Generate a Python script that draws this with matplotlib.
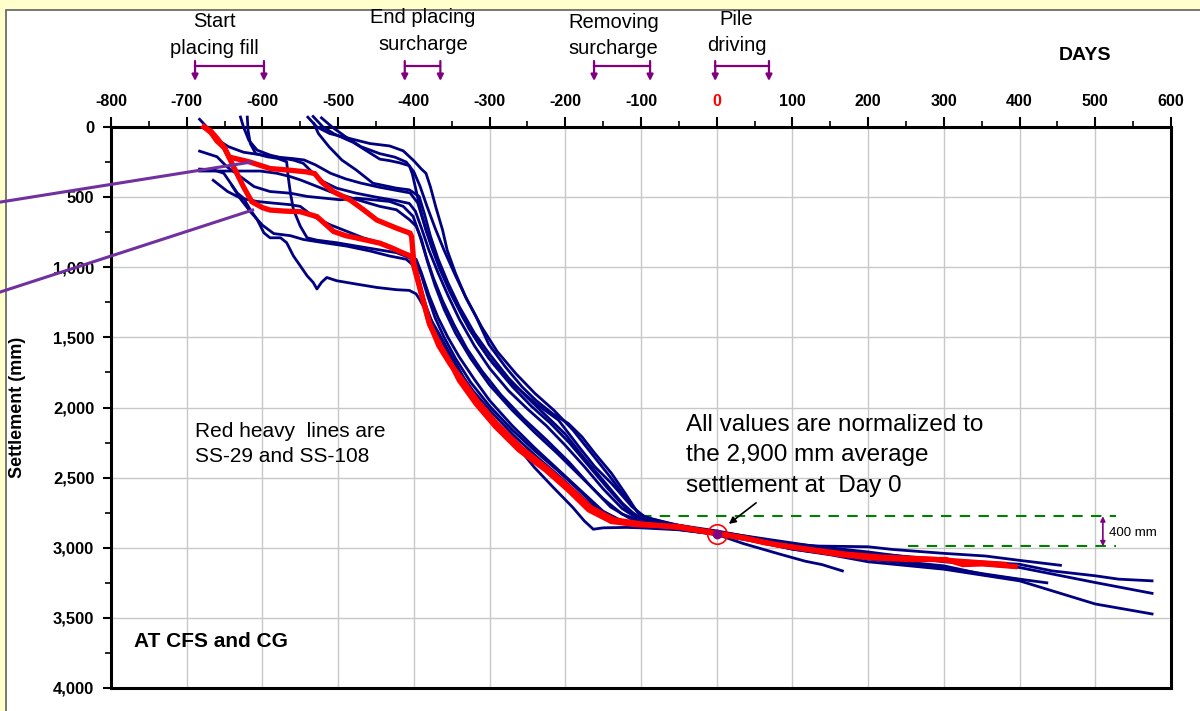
import matplotlib
matplotlib.use("Agg")
import matplotlib.pyplot as plt
from matplotlib.patches import Rectangle
from matplotlib.ticker import MultipleLocator
from matplotlib.transforms import blended_transform_factory

plt.rcParams['font.family'] = ['Liberation Sans', 'DejaVu Sans']

# settlement records: (day, settlement in mm)
ss_b01 = [(-540, -70), (-528, 0), (-511, 47), (-484, 83), (-458, 118), (-432, 135), (-414, 170),
          (-400, 241), (-390, 300), (-384, 330), (-378, 429), (-371, 571), (-362, 736), (-356, 878),
          (-345, 1043), (-332, 1208), (-318, 1350), (-301, 1550), (-279, 1711), (-257, 1853),
          (-239, 1948), (-217, 2043), (-196, 2114), (-178, 2209), (-161, 2327), (-139, 2469),
          (-121, 2611), (-104, 2754), (-90, 2790), (-50, 2840), (0, 2880), (50, 2930), (100, 2975),
          (135, 2988), (200, 2993), (232, 3012), (300, 3040), (355, 3059), (400, 3090), (454, 3125)]
ss_b02 = [(-533, -75), (-520, 0), (-505, 50), (-480, 110), (-445, 229), (-432, 240), (-419, 255),
          (-406, 276), (-402, 335), (-397, 453), (-391, 595), (-384, 736), (-375, 870), (-362, 1040),
          (-349, 1200), (-327, 1440), (-301, 1650), (-270, 1829), (-239, 1972), (-209, 2090),
          (-182, 2280), (-161, 2422), (-139, 2541), (-112, 2707), (-95, 2780), (-60, 2830), (0, 2890),
          (60, 2950), (120, 3000), (200, 3040), (300, 3085), (400, 3118), (443, 3165), (500, 3200),
          (531, 3224), (575, 3236)]
ss_b03 = [(-522, -65), (-508, 0), (-490, 70), (-470, 140), (-445, 190), (-425, 215), (-410, 250),
          (-400, 320), (-392, 420), (-383, 560), (-372, 720), (-360, 880), (-345, 1060), (-330, 1230),
          (-310, 1430), (-290, 1600), (-265, 1760), (-240, 1900), (-215, 2020), (-190, 2160),
          (-165, 2330), (-140, 2500), (-118, 2660), (-100, 2770), (-70, 2830), (-20, 2870), (30, 2910),
          (80, 2950), (130, 2990), (200, 3030), (300, 3100), (400, 3141), (500, 3248), (575, 3325)]
ss_b04 = [(-532, -24), (-526, 47), (-512, 141), (-495, 236), (-476, 307), (-454, 401), (-423, 436),
          (-406, 448), (-393, 495), (-386, 620), (-378, 780), (-368, 940), (-355, 1110), (-340, 1280),
          (-320, 1470), (-300, 1620), (-275, 1790), (-250, 1930), (-225, 2060), (-200, 2190),
          (-175, 2360), (-150, 2520), (-125, 2680), (-105, 2780), (-80, 2830), (-40, 2860), (0, 2895),
          (50, 2950), (100, 3010), (150, 3050), (200, 3100), (300, 3153), (400, 3236), (443, 3307),
          (500, 3401), (575, 3472)]
ss_b05 = [(-629, -71), (-625, 0), (-618, 94), (-607, 165), (-590, 200), (-572, 224), (-559, 236),
          (-546, 259), (-533, 330), (-520, 389), (-502, 436), (-476, 472), (-450, 500), (-423, 525),
          (-406, 545), (-398, 600), (-390, 720), (-380, 880), (-368, 1040), (-355, 1200), (-340, 1370),
          (-320, 1560), (-300, 1720), (-275, 1880), (-250, 2010), (-225, 2130), (-200, 2270),
          (-175, 2420), (-150, 2580), (-125, 2720), (-105, 2790), (-80, 2830), (-40, 2870), (0, 2905),
          (40, 2940), (90, 2990)]
ss_b06 = [(-620, -71), (-619, 24), (-616, 118), (-609, 189), (-594, 212), (-580, 224), (-568, 248),
          (-566, 354), (-563, 472), (-559, 590), (-550, 707), (-541, 790), (-528, 807), (-502, 825),
          (-476, 849), (-449, 873), (-423, 896), (-406, 931), (-397, 967), (-390, 1060), (-382, 1200),
          (-372, 1360), (-360, 1500), (-345, 1650), (-325, 1820), (-300, 1990), (-270, 2160),
          (-240, 2310), (-210, 2450), (-180, 2600), (-155, 2730), (-130, 2800), (-100, 2830),
          (-60, 2860), (0, 2905), (35, 2970), (85, 3048), (117, 3096), (139, 3120), (166, 3165)]
ss_b07 = [(-683, 314), (-603, 314), (-581, 330), (-563, 354), (-550, 377), (-533, 413), (-511, 460),
          (-489, 495), (-467, 531), (-445, 566), (-423, 590), (-406, 660), (-397, 707), (-390, 800),
          (-382, 960), (-372, 1130), (-360, 1300), (-345, 1470), (-325, 1650), (-300, 1840),
          (-270, 2020), (-240, 2180), (-210, 2330), (-180, 2490), (-150, 2650), (-125, 2760),
          (-100, 2810), (-50, 2855), (0, 2895), (50, 2945), (100, 2990), (150, 3030), (200, 3080),
          (300, 3141), (355, 3188), (400, 3224), (436, 3250)]
ss_b08 = [(-683, 172), (-660, 212), (-647, 283), (-629, 354), (-611, 425), (-590, 460), (-563, 472),
          (-541, 495), (-519, 507), (-497, 519), (-476, 507), (-454, 519), (-432, 531), (-414, 566),
          (-401, 637), (-393, 760), (-384, 920), (-374, 1080), (-362, 1240), (-347, 1410), (-330, 1580),
          (-310, 1740), (-285, 1910), (-255, 2080), (-225, 2230), (-195, 2390), (-165, 2570),
          (-140, 2710), (-115, 2790), (-90, 2825), (-40, 2865), (0, 2898), (60, 2950), (110, 2990)]
ss_b09 = [(-683, 300), (-665, 305), (-651, 330), (-642, 401), (-633, 472), (-625, 507), (-616, 590),
          (-607, 660), (-598, 755), (-590, 790), (-576, 790), (-568, 825), (-559, 920), (-550, 990),
          (-541, 1061), (-533, 1108), (-528, 1155), (-522, 1108), (-515, 1073), (-502, 1096),
          (-476, 1120), (-449, 1144), (-423, 1160), (-406, 1165), (-397, 1190), (-392, 1233),
          (-380, 1350), (-367, 1471), (-355, 1590), (-342, 1710), (-330, 1830), (-317, 1948),
          (-291, 2116), (-266, 2259), (-241, 2426), (-216, 2569), (-190, 2713), (-175, 2808),
          (-163, 2868), (-150, 2858), (-120, 2855), (-100, 2858), (-50, 2872), (0, 2905), (50, 2955),
          (100, 3010), (150, 3045), (200, 3075), (300, 3129), (355, 3193), (403, 3229)]
ss_b10 = [(-665, 380), (-646, 460), (-629, 507), (-607, 531), (-585, 543), (-563, 554), (-550, 566),
          (-533, 637), (-511, 696), (-489, 743), (-467, 790), (-445, 825), (-423, 873), (-406, 920),
          (-397, 943), (-390, 1040), (-380, 1200), (-368, 1360), (-355, 1500), (-340, 1640),
          (-320, 1800), (-300, 1950), (-270, 2130), (-240, 2290), (-210, 2440), (-180, 2590),
          (-150, 2740), (-125, 2810), (-100, 2835), (-50, 2865), (0, 2900), (30, 2930), (60, 2960)]
ss_b11 = [(-683, -55), (-670, 20), (-660, 90), (-645, 140), (-625, 180), (-600, 200), (-580, 215),
          (-560, 225), (-545, 235), (-530, 270), (-510, 330), (-490, 370), (-470, 400), (-445, 430),
          (-420, 455), (-405, 470), (-395, 540), (-387, 680), (-377, 850), (-366, 1010), (-352, 1180),
          (-335, 1360), (-315, 1540), (-295, 1690), (-270, 1850), (-245, 1990), (-220, 2110),
          (-195, 2250), (-170, 2410), (-145, 2570), (-120, 2720), (-100, 2790), (-70, 2835),
          (-30, 2870), (0, 2895), (40, 2935), (80, 2975)]
ss_b12 = [(-640, 420), (-628, 520), (-615, 610), (-600, 700), (-585, 760), (-563, 775), (-546, 802),
          (-519, 825), (-489, 849), (-458, 884), (-432, 920), (-410, 943), (-400, 990), (-393, 1100),
          (-385, 1260), (-374, 1420), (-360, 1570), (-343, 1720), (-322, 1880), (-298, 2030),
          (-268, 2200), (-238, 2350), (-208, 2490), (-178, 2640), (-150, 2770), (-125, 2820),
          (-100, 2840), (-50, 2870), (0, 2902), (50, 2950)]

# the two highlighted plates
ss_29 = [(-677, 0), (-668, 30), (-660, 80), (-650, 150), (-638, 285), (-625, 427), (-614, 533),
         (-600, 575), (-590, 592), (-570, 600), (-550, 604), (-528, 639), (-506, 745), (-490, 775),
         (-475, 792), (-445, 828), (-430, 860), (-414, 899), (-403, 923), (-400, 994), (-394, 1111),
         (-387, 1253), (-379, 1410), (-365, 1560), (-350, 1700), (-340, 1806), (-318, 1972),
         (-292, 2137), (-261, 2303), (-226, 2445), (-196, 2588), (-169, 2730), (-139, 2813),
         (-104, 2836), (-51, 2848), (0, 2897), (35, 2928), (63, 2964), (106, 3000), (161, 3048),
         (205, 3072), (254, 3084), (303, 3084), (325, 3120), (352, 3115), (394, 3134)]
ss_108 = [(-677, 0), (-668, 40), (-660, 100), (-650, 150), (-644, 214), (-617, 249), (-590, 296),
          (-564, 308), (-542, 320), (-531, 332), (-522, 391), (-506, 462), (-484, 521), (-466, 592),
          (-449, 663), (-423, 721), (-405, 757), (-403, 781), (-400, 970), (-395, 1080), (-388, 1230),
          (-380, 1390), (-367, 1560), (-352, 1690), (-338, 1790), (-316, 1955), (-290, 2120),
          (-258, 2290), (-224, 2435), (-194, 2575), (-166, 2715), (-136, 2800), (-100, 2830),
          (-50, 2855), (0, 2900), (40, 2935), (80, 2980), (120, 3010), (170, 3045), (220, 3068),
          (280, 3080), (330, 3100), (380, 3118)]

blue_records = [ss_b01, ss_b02, ss_b03, ss_b04, ss_b05, ss_b06, ss_b07, ss_b08, ss_b09, ss_b10,
                ss_b11, ss_b12]
red_records = [ss_29, ss_108]

# construction stages (day ranges)
event_names = ["Start\nplacing fill", "End placing\nsurcharge", "Removing\nsurcharge", "Pile\ndriving"]
event_from = [-689, -412, -162, -2]
event_to = [-598, -365, -88, 69]

x_ticks = list(range(-800, 601, 100))
y_ticks = list(range(0, 4001, 500))

norm_day = 0
norm_mm = 2900
band_top = 2775
band_bottom = 2990
band_label = "400 mm"

W, H = 1200, 711


def fy(py):
    return 1 - py / H


fig = plt.figure(figsize=(W / 100, H / 100), dpi=100, facecolor='#FFFFCC')
panel = Rectangle((6 / W, -0.02), 1.0, 1.02 - 10 / H, transform=fig.transFigure,
                  facecolor='white', edgecolor='#606060', lw=1.2, zorder=-10)
fig.patches.append(panel)

ax = fig.add_axes([111 / W, 1 - 688 / H, (1171 - 111) / W, (688 - 127) / H], zorder=2)
ax.set_facecolor('white')
ax.set_xlim(-800, 600)
ax.set_ylim(4000, 0)

for rec in blue_records:
    ax.plot([p[0] for p in rec], [p[1] for p in rec], color='#000080', lw=2.0, clip_on=False, zorder=3)
for rec in red_records:
    ax.plot([p[0] for p in rec], [p[1] for p in rec], color='#FF0000', lw=3.8, clip_on=False, zorder=4,
            solid_joinstyle='miter')

# axes styling
ax.xaxis.tick_top()
ax.set_xticks(x_ticks)
ax.set_xticklabels([str(v) for v in x_ticks], fontweight='bold', fontsize=11.5)
ax.get_xticklabels()[x_ticks.index(0)].set_color('red')
ax.set_yticks(y_ticks)
ax.set_yticklabels([f"{v:,}" for v in y_ticks], fontweight='bold', fontsize=12)
ax.xaxis.set_minor_locator(MultipleLocator(50))
ax.yaxis.set_minor_locator(MultipleLocator(250))
ax.tick_params(axis='x', which='major', direction='out', length=7, width=1.5, pad=6)
ax.tick_params(axis='x', which='minor', direction='out', length=4, width=1.2)
ax.tick_params(axis='y', which='major', direction='out', length=6, width=1.5, pad=6)
ax.tick_params(axis='y', which='minor', direction='out', length=4, width=1.2)
ax.grid(True, which='major', color='#C8C8C8', lw=1.0)
ax.set_axisbelow(True)
for sp in ax.spines.values():
    sp.set_linewidth(2.2)
    sp.set_color('black')

ax.set_ylabel("Settlement (mm)", fontweight='bold', fontsize=13)
ax.yaxis.set_label_coords(-(111 - 26) / (1171 - 111), 0.5)

# construction stage brackets above the axis
trans = blended_transform_factory(ax.transData, fig.transFigure)
purple = '#800080'
text_x = [-664, -388, -136, 26]
text_y = [35, 31, 35.5, 32.5]
for name, d0, d1, tx, ty in zip(event_names, event_from, event_to, text_x, text_y):
    ax.plot([d0, d1], [fy(66), fy(66)], transform=trans, color=purple, lw=1.6, clip_on=False)
    for d in (d0, d1):
        ax.annotate('', xy=(d, fy(81)), xytext=(d, fy(61)), xycoords=trans, textcoords=trans,
                    arrowprops=dict(arrowstyle='-|>', color=purple, lw=1.6, mutation_scale=9,
                                    shrinkA=0, shrinkB=0), annotation_clip=False)
    ax.text(tx, fy(ty), name, transform=trans, ha='center', va='center', fontsize=14.5,
            linespacing=1.5)

fig.text(1085 / W, fy(56), "DAYS", fontweight='bold', fontsize=14, ha='center', va='center')

# pointer lines coming in from the left
ax.plot([-946, -615], [535, 250], color='#7030A0', lw=2.2, clip_on=False, zorder=5)
ax.plot([-946, -613], [1176, 592], color='#7030A0', lw=2.2, clip_on=False, zorder=5)

# normalization marker and notes
ax.plot([norm_day], [norm_mm], 'o', ms=14, mfc='none', mec='red', mew=1.2, zorder=6)
ax.plot([norm_day], [norm_mm], 'o', ms=6, color='#800080', zorder=6)
ax.annotate('', xy=(16, 2830), xytext=(52, 2680),
            arrowprops=dict(arrowstyle='-|>', color='black', lw=1.2, mutation_scale=10,
                            shrinkA=0, shrinkB=0))
ax.text(-41, 2340, f"All values are normalized to\nthe {norm_mm:,} mm average\nsettlement at  Day {norm_day}",
        ha='left', va='center', fontsize=17.5, linespacing=1.5)
ax.text(-689, 2257, "Red heavy  lines are\nSS-29 and SS-108", ha='left', va='center',
        fontsize=15, linespacing=1.4)
ax.text(-770, 3667, "AT CFS and CG", ha='left', va='center', fontsize=15, fontweight='bold')

# 400 mm band
ax.plot([-100, 527], [band_top, band_top], color='#008000', lw=1.5, ls=(0, (5, 4)), zorder=2)
ax.plot([252, 527], [band_bottom, band_bottom], color='#008000', lw=1.5, ls=(0, (5, 4)), zorder=2)
ax.annotate('', xy=(510, band_bottom), xytext=(510, band_top),
            arrowprops=dict(arrowstyle='<|-|>', color=purple, lw=1.2, mutation_scale=7,
                            shrinkA=0, shrinkB=0))
ax.text(518, (band_top + band_bottom) / 2 + 10, band_label, ha='left', va='center', fontsize=9.5)

fig.savefig("out.png", dpi=100, facecolor=fig.get_facecolor())
